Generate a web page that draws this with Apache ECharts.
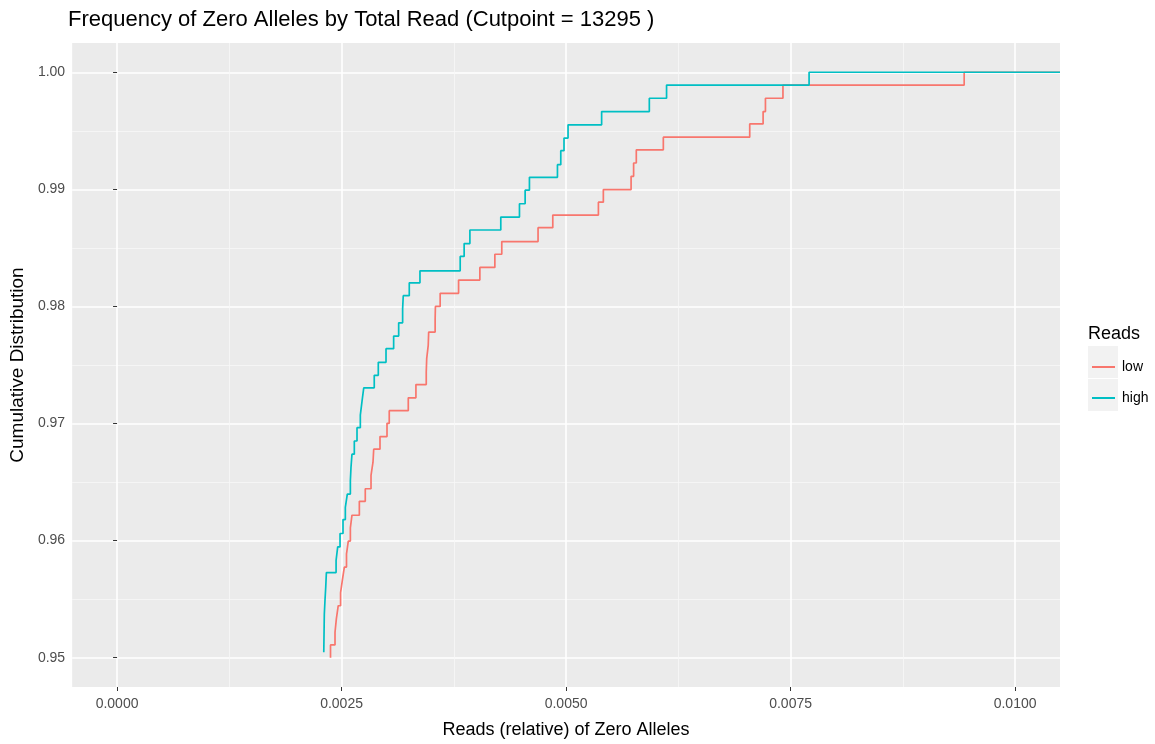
<!DOCTYPE html>
<html>
<head>
<meta charset="utf-8">
<script src="https://cdn.jsdelivr.net/npm/echarts@6/dist/echarts.min.js"></script>
<style>
  html, body { margin: 0; padding: 0; background: #ffffff; }
  #chart { width: 1155px; height: 744px; }
</style>
</head>
<body>
<div id="chart"></div>
<script>
// ECDF steps (relative reads, cumulative share)
const lowReads = [0.002377, 0.002377, 0.002427, 0.002442, 0.002463, 0.002489, 0.002509, 0.002531,
    0.002555, 0.002575, 0.002598, 0.002616, 0.002698, 0.002764, 0.002828, 0.002850, 0.002858,
    0.002928, 0.003006, 0.003031, 0.003243, 0.003328, 0.003443, 0.003448, 0.003465, 0.003470,
    0.003542, 0.003545, 0.003598, 0.003803, 0.004040, 0.004207, 0.004284, 0.004688, 0.004852,
    0.005360, 0.005415, 0.005724, 0.005752, 0.005782, 0.006083, 0.007045, 0.007194, 0.007220,
    0.007415, 0.009433, 0.0105];
const lowCum = [0.9500, 0.95109, 0.95217, 0.95332, 0.95444, 0.95557, 0.95662, 0.95774,
    0.95886, 0.95996, 0.96109, 0.96217, 0.96336, 0.96443, 0.96557, 0.96670, 0.96781,
    0.96889, 0.97002, 0.97110, 0.97220, 0.97333, 0.97441, 0.97554, 0.97667, 0.97781,
    0.97890, 0.98000, 0.98112, 0.98225, 0.98333, 0.98446, 0.98554, 0.98673, 0.98780,
    0.98891, 0.98998, 0.99111, 0.99225, 0.99338, 0.99446, 0.99559, 0.99664, 0.99778,
    0.99891, 1.0000, 1.0000];

const highReads = [0.002302, 0.002308, 0.002316, 0.002324, 0.002331, 0.002439, 0.002457, 0.002483,
    0.002516, 0.002542, 0.002564, 0.002598, 0.002605, 0.002616, 0.002642, 0.002672, 0.002709,
    0.002728, 0.002747, 0.002864, 0.002909, 0.002995, 0.003080, 0.003136, 0.003180, 0.003187,
    0.003254, 0.003373, 0.003821, 0.003865, 0.003929, 0.004273, 0.004481, 0.004544, 0.004592,
    0.004904, 0.004941, 0.004977, 0.005022, 0.005396, 0.005927, 0.006119, 0.007706, 0.0105];
const highCum = [0.95047, 0.95373, 0.95500, 0.95606, 0.95727, 0.95832, 0.95946, 0.96061,
    0.96180, 0.96285, 0.96398, 0.96511, 0.96625, 0.96738, 0.96851, 0.96965, 0.97072,
    0.97191, 0.97305, 0.97412, 0.97523, 0.97639, 0.97747, 0.97860, 0.97979, 0.98092,
    0.98202, 0.98304, 0.98427, 0.98537, 0.98653, 0.98763, 0.98877, 0.98993, 0.99103,
    0.99211, 0.99330, 0.99438, 0.99551, 0.99664, 0.99778, 0.99891, 1.0000, 1.0000];

const xBreaks = [0, 0.0025, 0.005, 0.0075, 0.01];
const xMinorBreaks = [0.00125, 0.00375, 0.00625, 0.00875];
const yBreaks = [0.95, 0.96, 0.97, 0.98, 0.99, 1.00];
const yMinorBreaks = [0.955, 0.965, 0.975, 0.985, 0.995];

const RED = '#F8766D';
const TEAL = '#00BFC4';
const FONT = '"Liberation Sans", Arial, sans-serif';

function zip(xs, ys) {
    return xs.map((x, i) => [x, ys[i]]);
}

const chart = echarts.init(document.getElementById('chart'), null, { renderer: 'canvas' });

const xRange = { min: -0.0005, max: 0.0105 };
const yRange = { min: 0.9475, max: 1.0025 };

const option = {
    backgroundColor: '#ffffff',
    animation: false,
    textStyle: { fontFamily: FONT },
    title: [
        {
            text: 'Frequency of Zero Alleles by Total Read (Cutpoint = 13295 )',
            left: 63,
            top: 4,
            textStyle: { fontFamily: FONT, fontSize: 22, fontWeight: 'normal', color: '#000' }
        },
        {
            text: 'Reads',
            left: 1083,
            top: 320,
            textStyle: { fontFamily: FONT, fontSize: 18, fontWeight: 'normal', color: '#000' }
        }
    ],
    graphic: [
        { type: 'rect', shape: { x: 1088, y: 346, width: 30, height: 32 }, style: { fill: '#F2F2F2' }, z: -1 },
        { type: 'rect', shape: { x: 1088, y: 379, width: 30, height: 32 }, style: { fill: '#F2F2F2' }, z: -1 }
    ],
    legend: {
        orient: 'vertical',
        left: 1087,
        top: 355,
        itemWidth: 23,
        itemHeight: 2,
        itemGap: 17,
        icon: 'rect',
        textStyle: { fontFamily: FONT, fontSize: 14, color: '#000', padding: [0, 0, 0, 2] },
        data: ['low', 'high']
    },
    grid: {
        left: 71,
        right: 95,
        top: 43,
        bottom: 54,
        show: true,
        backgroundColor: '#EBEBEB',
        borderWidth: 0
    },
    xAxis: [
        {
            type: 'value',
            min: xRange.min,
            max: xRange.max,
            axisLine: { show: false },
            axisTick: { show: true, length: 4, customValues: xBreaks, lineStyle: { color: '#333333' } },
            axisLabel: {
                customValues: xBreaks,
                formatter: v => v.toFixed(4),
                color: '#4D4D4D',
                fontSize: 14,
                margin: 10
            },
            splitLine: { show: true, lineStyle: { color: '#ffffff', width: 1.6 } },
            name: 'Reads (relative) of Zero Alleles',
            nameLocation: 'middle',
            nameGap: 34,
            nameTextStyle: { fontFamily: FONT, fontSize: 18, color: '#000' }
        },
        {
            type: 'value',
            min: xRange.min,
            max: xRange.max,
            axisLine: { show: false },
            axisTick: { show: false, customValues: xMinorBreaks },
            axisLabel: { show: false, customValues: xMinorBreaks },
            splitLine: { show: true, lineStyle: { color: '#F7F7F7', width: 0.8 } }
        }
    ],
    yAxis: [
        {
            type: 'value',
            min: yRange.min,
            max: yRange.max,
            axisLine: { show: false },
            axisTick: { show: true, length: 4, customValues: yBreaks, lineStyle: { color: '#333333' } },
            axisLabel: {
                customValues: yBreaks,
                formatter: v => v.toFixed(2),
                color: '#4D4D4D',
                fontSize: 14,
                margin: 7
            },
            splitLine: { show: true, lineStyle: { color: '#ffffff', width: 1.6 } },
            name: 'Cumulative Distribution',
            nameLocation: 'middle',
            nameGap: 41,
            nameTextStyle: { fontFamily: FONT, fontSize: 19, color: '#000' }
        },
        {
            type: 'value',
            min: yRange.min,
            max: yRange.max,
            axisLine: { show: false },
            axisTick: { show: false, customValues: yMinorBreaks },
            axisLabel: { show: false, customValues: yMinorBreaks },
            splitLine: { show: true, lineStyle: { color: '#F7F7F7', width: 0.8 } }
        }
    ],
    series: [
        {
            name: 'low',
            type: 'line',
            step: 'end',
            showSymbol: false,
            color: RED,
            lineStyle: { width: 1.7, color: RED },
            data: zip(lowReads, lowCum)
        },
        {
            name: 'high',
            type: 'line',
            step: 'end',
            showSymbol: false,
            color: TEAL,
            lineStyle: { width: 1.7, color: TEAL },
            data: zip(highReads, highCum)
        }
    ]
};

chart.setOption(option);
</script>
</body>
</html>
